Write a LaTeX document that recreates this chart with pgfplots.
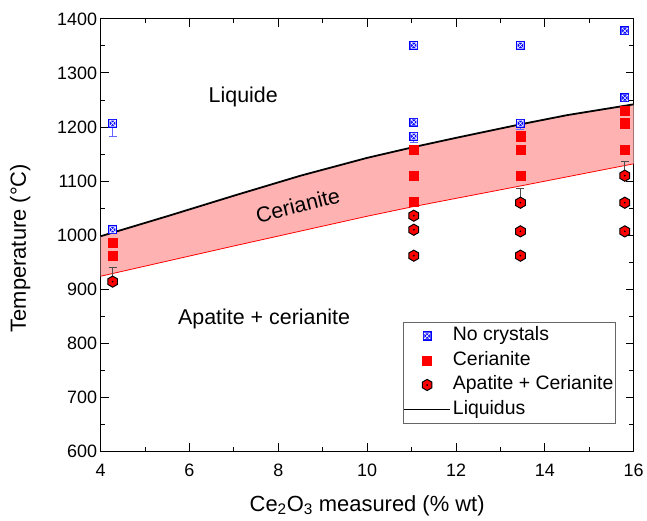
\documentclass[border=0pt]{standalone}
\usepackage{pgfplots}
\pgfplotsset{compat=1.18}
\usepackage{fontspec}
\setmainfont{Liberation Sans}

\pgfdeclareplotmark{nocryst}{%
  \pgfsetfillcolor{blue}%
  \pgfpathrectangle{\pgfpoint{-\pgfplotmarksize}{-\pgfplotmarksize}}{\pgfpoint{2\pgfplotmarksize}{2\pgfplotmarksize}}%
  \pgfusepath{fill}%
  \pgfsetstrokecolor{white}\pgfsetlinewidth{0.6pt}%
  \pgfpathrectangle{\pgfpoint{-0.65\pgfplotmarksize}{-0.65\pgfplotmarksize}}{\pgfpoint{1.3\pgfplotmarksize}{1.3\pgfplotmarksize}}%
  \pgfpathmoveto{\pgfpoint{-0.65\pgfplotmarksize}{-0.65\pgfplotmarksize}}\pgfpathlineto{\pgfpoint{0.65\pgfplotmarksize}{0.65\pgfplotmarksize}}%
  \pgfpathmoveto{\pgfpoint{-0.65\pgfplotmarksize}{0.65\pgfplotmarksize}}\pgfpathlineto{\pgfpoint{0.65\pgfplotmarksize}{-0.65\pgfplotmarksize}}%
  \pgfusepath{stroke}%
}
\pgfdeclareplotmark{hexa}{%
  \pgfsetfillcolor{red}\pgfsetstrokecolor{black}\pgfsetlinewidth{1pt}%
  \pgfpathmoveto{\pgfpointpolar{90}{\pgfplotmarksize}}%
  \pgfpathlineto{\pgfpointpolar{150}{\pgfplotmarksize}}%
  \pgfpathlineto{\pgfpointpolar{210}{\pgfplotmarksize}}%
  \pgfpathlineto{\pgfpointpolar{270}{\pgfplotmarksize}}%
  \pgfpathlineto{\pgfpointpolar{330}{\pgfplotmarksize}}%
  \pgfpathlineto{\pgfpointpolar{30}{\pgfplotmarksize}}%
  \pgfpathclose
  \pgfusepath{fill,stroke}%
  \pgfsetfillcolor{black}%
  \pgfpathcircle{\pgfpointorigin}{0.17\pgfplotmarksize}%
  \pgfusepath{fill}%
}
\pgfplotsset{
  markleg/.style={legend image code/.code={\draw[mark repeat=2,mark phase=2,##1] plot coordinates {(0pt,0pt) (23pt,0pt) (46pt,0pt)};}},
  lineleg/.style={legend image code/.code={\draw[##1] (0pt,0pt) -- (46pt,0pt);}},
}

\begin{document}
\begin{tikzpicture}
\begin{axis}[
  scale only axis, width=535pt, height=434pt,
  xmin=4, xmax=16, ymin=600, ymax=1400,
  xtick={4,6,...,16}, ytick={600,700,...,1400},
  minor x tick num=1, minor y tick num=1,
  tick align=inside, major tick length=8pt, minor tick length=4.5pt,
  tick style={black, line width=1pt},
  axis line style={line width=1pt},
  scaled ticks=false,
  /pgf/number format/assume math mode=true,
  /pgf/number format/1000 sep={},
  ticklabel style={font=\fontsize{18}{21}\selectfont},
  xticklabel style={yshift=-9pt},
  label style={font=\fontsize{22}{26}\selectfont},
  xlabel={Ce\textsubscript{2}O\textsubscript{3} measured (\% wt)},
  ylabel={Temperature (°C)},
  xlabel style={at={(axis description cs:0.5,-0.138)}, anchor=base},
  ylabel style={at={(axis description cs:-0.151,0.47)}, anchor=center},
  legend style={at={(0.966,0.0645)}, anchor=south east, draw=black!60, line width=0.5pt,
    font=\fontsize{19.5}{22}\selectfont, cells={anchor=west}, inner xsep=0pt, inner ysep=1.5pt,
    row sep=0pt, nodes={inner ysep=3pt, text height=14.2pt, text depth=4.4pt}},
  legend entries={No crystals, Cerianite, Apatite + Cerianite, Liquidus},
]
% Cerianite field
\addplot[forget plot, fill=red!30, draw=none] coordinates {
  (4,998) (5.5,1035) (7,1073) (8.5,1110) (10,1143) (11.05,1163) (12,1180) (13.45,1205) (14.5,1222) (16,1242)
  (16,1132) (13.45,1091) (11.05,1053) (10,1035) (7,980) (4,924)} -- cycle;
% lower boundary
\addplot[forget plot, red, line width=0.8pt] coordinates {
  (4,924) (7,980) (10,1035) (11.05,1053) (13.45,1091) (16,1132)};
% liquidus
\addplot[forget plot, black, line width=1.8pt] coordinates {
  (4,998) (5.5,1035) (7,1073) (8.5,1110) (10,1143) (11.05,1163) (12,1180) (13.45,1205) (14.5,1222) (16,1242)};
% error bars
\addplot[forget plot, only marks, mark=none,
  error bars/.cd, y dir=minus, y explicit,
  error bar style={blue!60, line width=0.7pt},
  error mark options={rotate=90, mark size=4pt, blue!60, line width=0.7pt}]
  coordinates {(4.27,1207) -= (0,25) (11.05,1183) -= (0,11) (13.45,1207) -= (0,11)};
\addplot[forget plot, only marks, mark=none,
  error bars/.cd, y dir=plus, y explicit,
  error bar style={black!70, line width=0.7pt},
  error mark options={rotate=90, mark size=4pt, black!70, line width=0.7pt}]
  coordinates {(4.27,914) += (0,26) (13.45,1060) += (0,26) (15.8,1110) += (0,26)};
% No crystals
\addplot[only marks, mark=nocryst, mark size=4.6pt, markleg]
  coordinates {(4.27,1207) (4.27,1010) (11.05,1351) (11.05,1209) (11.05,1183)
    (13.45,1351) (13.45,1207) (15.8,1378) (15.8,1254)};
% Cerianite
\addplot[only marks, mark=square*, mark size=4.6pt, color=red, mark options={fill=red, draw=none}, markleg]
  coordinates {(4.27,986) (4.27,962) (11.05,1158) (11.05,1110) (11.05,1062)
    (13.45,1183) (13.45,1158) (13.45,1110) (15.8,1230) (15.8,1207) (15.8,1158)};
% Apatite + Cerianite
\addplot[only marks, mark=hexa, mark size=5.6pt, color=black, markleg]
  coordinates {(4.27,914) (11.05,1036) (11.05,1010) (11.05,962)
    (13.45,1060) (13.45,1007) (13.45,962) (15.8,1110) (15.8,1060) (15.8,1007)};
\addlegendimage{black, line width=1.8pt, lineleg}
\node[font=\fontsize{21.5}{25}\selectfont] at (axis cs:7.21,1255) {Liquide};
\node[font=\fontsize{21.5}{25}\selectfont, rotate=14] at (axis cs:8.44,1055) {Cerianite};
\node[font=\fontsize{21.5}{25}\selectfont] at (axis cs:7.68,845) {Apatite + cerianite};
\end{axis}
\path (current axis.south west) ++(-101pt,-69pt);
\path (current axis.north east) ++(11pt,19pt);
\end{tikzpicture}
\end{document}
